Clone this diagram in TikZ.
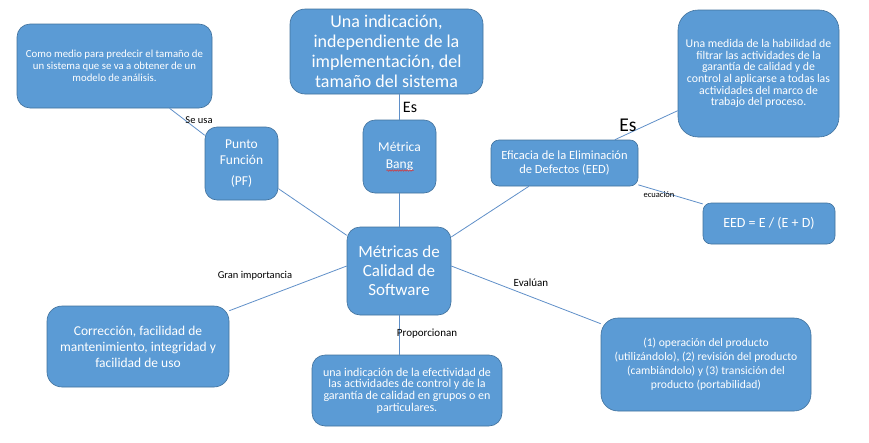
\documentclass[tikz,border=0pt]{standalone}
\usepackage{fontspec}
\setmainfont{Carlito}
\usetikzlibrary{calc,decorations.pathmorphing}
\definecolor{boxfill}{HTML}{5B9BD5}
\definecolor{boxline}{HTML}{41719C}
\definecolor{conn}{HTML}{5F8FC8}
\definecolor{squiggle}{HTML}{E03030}
\begin{document}
\begin{tikzpicture}[x=1pt,y=-1pt,
  box/.style={rectangle, rounded corners=#1, fill=boxfill, draw=boxline, line width=0.6pt, text=white, align=center, inner sep=0pt},
  box/.default=10pt,
  link/.style={draw=conn, line width=0.8pt},
  lbl/.style={text=black, inner sep=0pt},
  fs/.style 2 args={font=\fontsize{#1}{#2}\selectfont}]
\useasboundingbox (0,0) rectangle (869,442);

\node[box=13pt, minimum width=195pt, minimum height=84pt, fs={10.8}{12}] (como) at (114.5,66)
  {Como medio para predecir el tamaño de\\un sistema que se va a obtener de un\\modelo de análisis.};
\node[box=12pt, minimum width=73pt, minimum height=73pt, fs={13.5}{15.7}] (pf) at (241.5,163.5)
  {Punto\\Función\\[5pt](PF)};
\node[box=15pt, minimum width=193pt, minimum height=85pt, fs={18}{20}] (indic) at (386.5,51.5)
  {Una indicación,\\independiente de la\\implementación, del\\tamaño del sistema};
\node[box=12pt, minimum width=73pt, minimum height=73pt, fs={13.5}{16.5}] (bang) at (399.5,156.5)
  {Métrica\\Bang};
\node[box=20pt, minimum width=161pt, minimum height=127pt, fs={11.8}{11.7}] (medida) at (758.5,73.5)
  {Una medida de la habilidad de\\filtrar las actividades de la\\garantía de calidad y de\\control al aplicarse a todas las\\actividades del marco de\\trabajo del proceso.};
\node[box=8pt, minimum width=147pt, minimum height=46pt, fs={12.5}{14}] (eed) at (564.5,163)
  {Eficacia de la Eliminación\\de Defectos (EED)};
\node[box=8pt, minimum width=132pt, minimum height=41pt, fs={14}{16}] (eq) at (769,223.5)
  {EED = E / (E + D)};
\node[box=13pt, minimum width=104pt, minimum height=88pt, fs={17}{19}] (central) at (399,271)
  {Métricas de\\Calidad de\\Software};
\node[box=15pt, minimum width=182pt, minimum height=81pt, fs={13.5}{16}] (corr) at (138,346.5)
  {Corrección, facilidad de\\mantenimiento, integridad y\\facilidad de uso};
\node[box=13pt, minimum width=190pt, minimum height=71pt, fs={12}{11.8}] (prop) at (407,390.5)
  {una indicación de la efectividad de\\las actividades de control y de la\\garantía de calidad en grupos o en\\particulares.};
\node[box=17pt, minimum width=210pt, minimum height=93pt, fs={11.6}{14}] (eval) at (706,364.5)
  {(1) operación del producto\\(utilizándolo), (2) revisión del producto\\(cambiándolo) y (3) transición del\\producto (portabilidad)};

\draw[squiggle, line width=0.5pt, decorate, decoration={snake, amplitude=0.7pt, segment length=2.5pt}]
  ($(bang.center)+(-13,14)$) -- ++(27,0);

\draw[link] (como) -- (pf);
\draw[link] (pf) -- (central);
\draw[link] (indic.south -| bang.north) -- (bang.north);
\draw[link] (bang.south) -- (central.north -| bang.south);
\draw[link] (eed) -- (central);
\draw[link] (eed) -- (medida);
\draw[link] (eed) -- (eq);
\draw[link] ($(central.west)+(0,-5)$) -- ($(corr.north east)+(0,5)$);
\draw[link] (central.south) -- (central.south |- prop.north);
\draw[link] ($(central.east)+(0,-5)$) -- ($(eval.north west)+(0,6)$);

\node[lbl, fs={10.5}{12}] (l1) at (199,120) {Se usa};
\node[lbl, fs={16}{18}] (l2) at (410,107) {Es};
\node[lbl, fs={19.5}{22}] (l3) at (628,125) {Es};
\node[lbl, fs={8.5}{9}] (l4) at (659,195) {ecuación};
\node[lbl, fs={10.5}{12}] (l5) at (255,275.5) {Gran importancia};
\node[lbl, fs={11}{13}] (l6) at (427,334) {Proporcionan};
\node[lbl, fs={11}{13}] (l7) at (531,283) {Evalúan};
\end{tikzpicture}
\end{document}
